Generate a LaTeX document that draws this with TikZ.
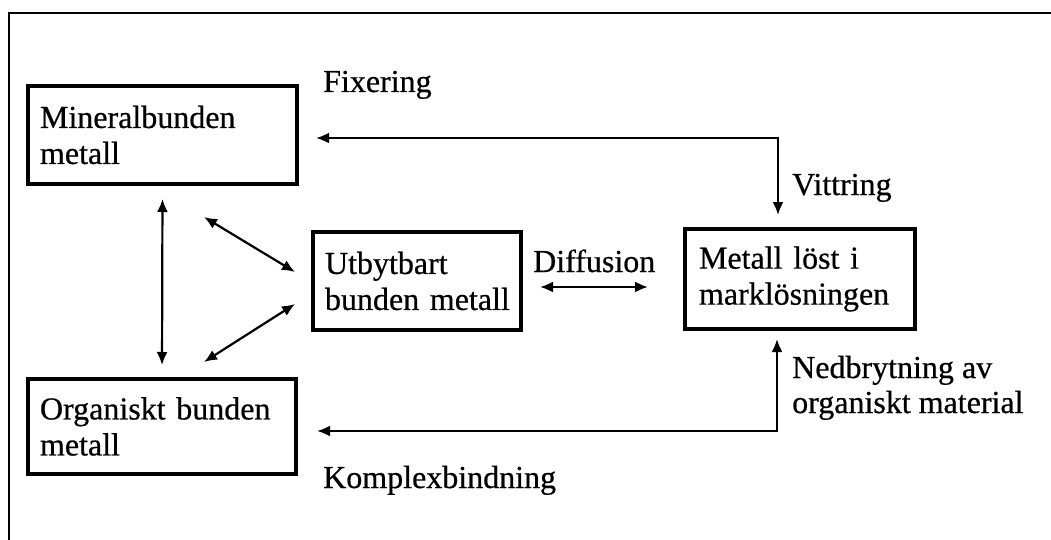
\documentclass[tikz,border=0pt]{standalone}
\usepackage{fontspec}
\setmainfont{Liberation Serif}[FakeBold=0.6]
\usetikzlibrary{arrows.meta,calc}
\begin{document}
\begin{tikzpicture}[x=1pt,y=-1pt,
  txt/.style={font=\fontsize{32}{36}\selectfont, inner sep=0pt},
  box/.style={txt, draw, line width=4pt, anchor=north west, align=left, inner ysep=0pt},
  conn/.style={line width=2.2pt, {Latex[length=13pt,width=11pt]}-{Latex[length=13pt,width=11pt]}}]
\useasboundingbox (0,0) rectangle (1051,540);
\draw[line width=2.4pt] (9,540) -- (9,13) -- (1051,13);

\node[box, minimum width=269pt, minimum height=98pt, text width=245pt, inner xsep=12pt] (mineral) at (26,84) {Mineralbunden\\metall};
\node[box, minimum width=208pt, minimum height=98pt, text width=184pt, inner xsep=12pt] (utby) at (311,230) {Utbytbart\\\mbox{bunden metall}};
\node[box, minimum width=230pt, minimum height=100pt, text width=202pt, inner xsep=14pt] (metall) at (683,227) {Metall löst i\\marklösningen};
\node[box, minimum width=268pt, minimum height=95pt, text width=244pt, inner xsep=12pt] (organ) at (26,377) {Organiskt bunden\\metall};

\node[txt, anchor=base west] (fix) at (323,92) {Fixering};
\node[txt, anchor=base west] (vitt) at (792,195) {Vittring};
\node[txt, anchor=base west] (diff) at (533,272) {Diffusion};
\node[txt, anchor=base west, align=left, font=\fontsize{32}{35}\selectfont] (nedb) at (792,413) {Nedbrytning av\\organiskt material};
\node[txt, anchor=base west] (komp) at (323,488) {Komplexbindning};

\coordinate (c1) at (778,138);
\coordinate (c2) at (777,431);

\draw[conn, shorten <=17pt, shorten >=12pt] (mineral.east |- c1) -- (c1) -- (c1 |- metall.north);
\draw[conn, shorten <=19pt, shorten >=8pt] (organ.east |- c2) -- (c2) -- (c2 |- metall.south);
\draw[conn, shorten <=13pt, shorten >=12pt] (mineral.south) -- (organ.north);
\draw[conn] ($(mineral.south east)+(-95,31)$) -- ($(utby.west)+(-16,-9)$);
\draw[conn] ($(utby.west)+(-16,23)$) -- ($(organ.north east)+(-94,-15)$);
\draw[conn] ($(utby.east)+(17,6)$) -- ($(metall.west)+(-35,8)$);
\end{tikzpicture}
\end{document}
